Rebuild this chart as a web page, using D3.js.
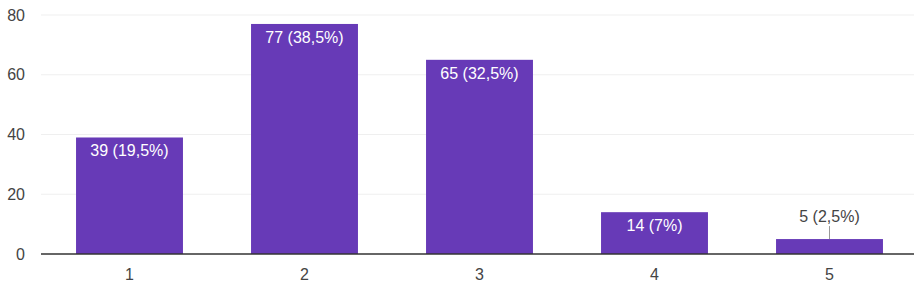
<!DOCTYPE html>
<html>
<head>
<meta charset="utf-8">
<script src="https://cdn.jsdelivr.net/npm/d3@7"></script>
<style>
  body { margin: 0; background: #fff; }
  text { font-family: Arial, "Liberation Sans", sans-serif; }
</style>
</head>
<body>
<svg id="drawing_region"></svg>
<script>
const categories = ['1', '2', '3', '4', '5'];
const counts = [39, 77, 65, 14, 5];
const percentLabels = ['19,5%', '38,5%', '32,5%', '7%', '2,5%'];
const yTicks = [0, 20, 40, 60, 80];

const width = 919, height = 285;
const margin = { top: 15, right: 5, bottom: 31, left: 41 };

const svg = d3.select('#drawing_region')
    .attr('width', width)
    .attr('height', height);

const x = d3.scaleBand()
    .domain(categories)
    .range([42, 917])
    .paddingInner(0.389)
    .paddingOuter(0.1945);

const y = d3.scaleLinear()
    .domain([0, 80])
    .range([height - margin.bottom, margin.top]);

// gridlines
svg.append('g')
    .selectAll('line')
    .data(yTicks.filter(d => d > 0))
    .join('line')
    .attr('x1', margin.left)
    .attr('x2', width - margin.right)
    .attr('y1', d => y(d))
    .attr('y2', d => y(d))
    .attr('stroke', '#efefef')
    .attr('stroke-width', 1);

// y labels
svg.append('g')
    .selectAll('text')
    .data(yTicks)
    .join('text')
    .attr('x', 25)
    .attr('y', d => y(d) + 5.5)
    .attr('text-anchor', 'end')
    .attr('fill', '#444')
    .style('font-size', '16px')
    .text(d => d);

const data = categories.map((c, i) => ({ cat: c, value: counts[i], pct: percentLabels[i] }));

svg.append('g')
    .selectAll('rect')
    .data(data)
    .join('rect')
    .attr('x', d => x(d.cat))
    .attr('width', x.bandwidth())
    .attr('y', d => y(d.value))
    .attr('height', d => y(0) - y(d.value))
    .attr('fill', '#673ab7');

// baseline
svg.append('line')
    .attr('x1', margin.left)
    .attr('x2', width - margin.right)
    .attr('y1', y(0))
    .attr('y2', y(0))
    .attr('stroke', '#333')
    .attr('stroke-width', 1.5);

// x labels
svg.append('g')
    .selectAll('text')
    .data(categories)
    .join('text')
    .attr('x', d => x(d) + x.bandwidth() / 2)
    .attr('y', y(0) + 26)
    .attr('text-anchor', 'middle')
    .attr('fill', '#444')
    .style('font-size', '16px')
    .text(d => d);

// value labels
const inside = d => (y(0) - y(d.value)) > 25;
const labels = svg.append('g');

labels.selectAll('text')
    .data(data)
    .join('text')
    .attr('x', d => x(d.cat) + x.bandwidth() / 2)
    .attr('y', d => inside(d) ? y(d.value) + 19 : y(d.value) - 17)
    .attr('text-anchor', 'middle')
    .attr('fill', d => inside(d) ? '#fff' : '#444')
    .style('font-size', '16px')
    .text(d => `${d.value} (${d.pct})`);

labels.selectAll('line')
    .data(data.filter(d => !inside(d)))
    .join('line')
    .attr('x1', d => x(d.cat) + x.bandwidth() / 2)
    .attr('x2', d => x(d.cat) + x.bandwidth() / 2)
    .attr('y1', d => y(d.value) - 13)
    .attr('y2', d => y(d.value))
    .attr('stroke', '#999')
    .attr('stroke-width', 1);
</script>
</body>
</html>
